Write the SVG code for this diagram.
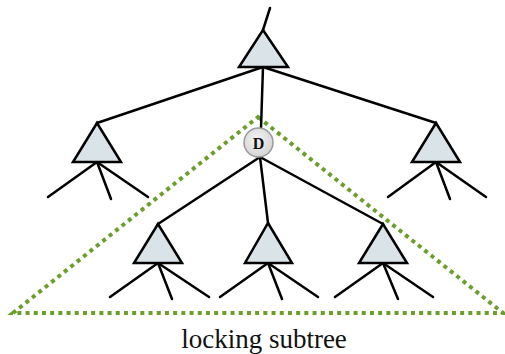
<svg xmlns="http://www.w3.org/2000/svg" width="505" height="354" viewBox="0 0 505 354">
  <defs>
    <style>
      .edge { stroke: #000; stroke-width: 2.5; fill: none; stroke-linecap: round; }
      .tri { fill: #dae4e8; stroke: #000; stroke-width: 2.5; stroke-linejoin: miter; }
      .lock { fill: none; stroke: #6a9f2a; stroke-width: 4; stroke-dasharray: 4 4.2; }
      .label { font-family: "Liberation Serif", "Times New Roman", serif; fill: #111; }
    </style>
    <radialGradient id="nodeFill" cx="0.45" cy="0.4" r="0.65">
      <stop offset="0" stop-color="#f4f4f4"/>
      <stop offset="1" stop-color="#d2d2d2"/>
    </radialGradient>
  </defs>

  <!-- locking subtree outline -->
  <polygon id="locking-region" class="lock" points="258,117 503,313 13,313"/>

  <!-- connectors -->
  <g id="connectors">
    <line class="edge" x1="270" y1="8" x2="263" y2="30"/>
    <line class="edge" x1="263" y1="67" x2="97" y2="123"/>
    <line class="edge" x1="263" y1="67" x2="436" y2="123"/>
    <line class="edge" x1="263" y1="67" x2="261" y2="128"/>
    <line class="edge" x1="260" y1="157" x2="158" y2="224"/>
    <line class="edge" x1="260" y1="157" x2="268" y2="223"/>
    <line class="edge" x1="260" y1="157" x2="383" y2="224"/>
    <!-- leaf edges: left subtree -->
    <line class="edge" x1="97" y1="162" x2="48" y2="197"/>
    <line class="edge" x1="97" y1="162" x2="111" y2="199"/>
    <line class="edge" x1="97" y1="162" x2="148" y2="197"/>
    <!-- leaf edges: right subtree -->
    <line class="edge" x1="436" y1="162" x2="388" y2="197"/>
    <line class="edge" x1="436" y1="162" x2="450" y2="199"/>
    <line class="edge" x1="436" y1="162" x2="486" y2="197"/>
    <!-- leaf edges: bottom row -->
    <line class="edge" x1="158" y1="263" x2="110" y2="297"/>
    <line class="edge" x1="158" y1="263" x2="172" y2="299"/>
    <line class="edge" x1="158" y1="263" x2="209" y2="297"/>
    <line class="edge" x1="268" y1="263" x2="220" y2="297"/>
    <line class="edge" x1="268" y1="263" x2="282" y2="299"/>
    <line class="edge" x1="268" y1="263" x2="318" y2="297"/>
    <line class="edge" x1="383" y1="263" x2="335" y2="297"/>
    <line class="edge" x1="383" y1="263" x2="398" y2="299"/>
    <line class="edge" x1="383" y1="263" x2="433" y2="297"/>
  </g>

  <g id="root">
    <polygon class="tri" points="263,30 288,67 239,67"/>
  </g>
  <g id="left-subtree">
    <polygon class="tri" points="97,123 121,162 73,162"/>
  </g>
  <g id="right-subtree">
    <polygon class="tri" points="436,123 460,162 412,162"/>
  </g>
  <g id="node-d">
    <circle cx="258.5" cy="142.5" r="14.5" fill="url(#nodeFill)" stroke="#9a9a9a" stroke-width="1.5"/>
    <text class="label" x="258.5" y="148.5" font-size="16" font-weight="bold" text-anchor="middle">D</text>
  </g>
  <g id="d-child-left">
    <polygon class="tri" points="158,224 182,263 134,263"/>
  </g>
  <g id="d-child-middle">
    <polygon class="tri" points="268,223 292,263 245,263"/>
  </g>
  <g id="d-child-right">
    <polygon class="tri" points="383,224 407,263 359,263"/>
  </g>

  <text class="label" x="264" y="348" font-size="27" text-anchor="middle">locking subtree</text>
</svg>
